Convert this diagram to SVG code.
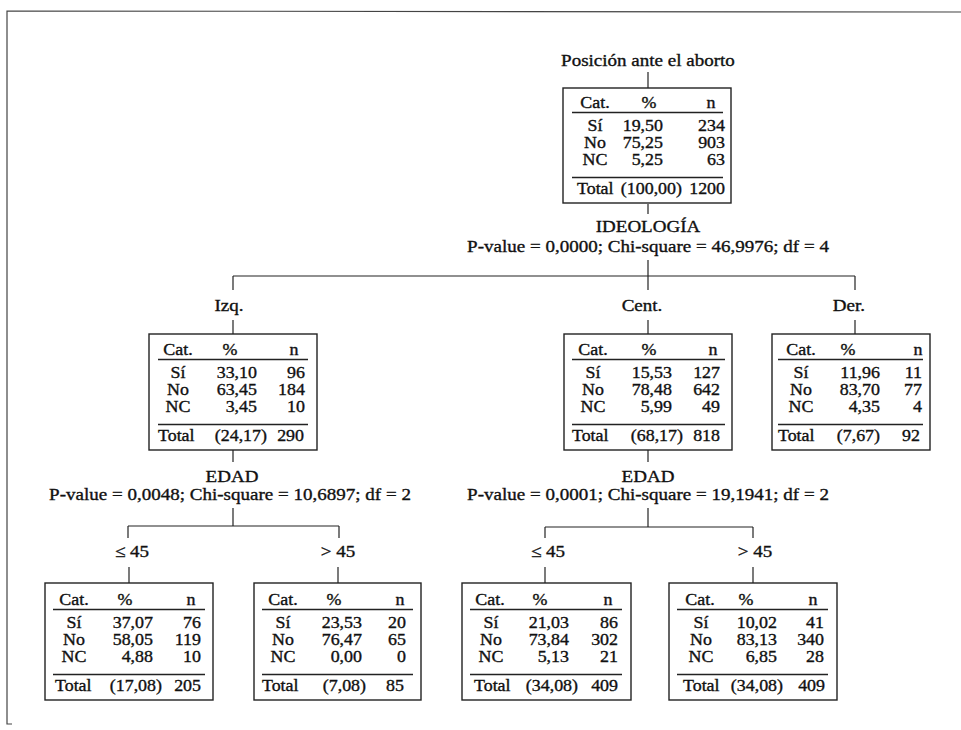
<svg xmlns="http://www.w3.org/2000/svg" width="961" height="730" viewBox="0 0 961 730">
<style>
text { font-family: "Liberation Serif", "Times New Roman", serif; fill: #111; stroke: #111; stroke-width: 0.35; transform-box: fill-box; transform: scaleX(1.12); }
.t { font-size: 16px; }
.l { font-size: 17px; }
.m { text-anchor: middle; transform-origin: center; }
.e { text-anchor: end; transform-origin: right center; }
.s { text-anchor: start; transform-origin: left center; }
.box { fill: #fff; stroke: #222; stroke-width: 1.4; }
.rule { stroke: #222; stroke-width: 1.3; }
.conn line { stroke: #222; stroke-width: 1.2; }
.frame { fill: none; stroke: #444; stroke-width: 1.2; }
</style>
<rect width="961" height="730" fill="#fff"/>
<g id="frame">
<polyline class="frame" points="961,12 7,11 7,724 12,724"/>
</g>
<g id="connectors" class="conn">
<line x1="648" y1="72" x2="648" y2="88"/>
<line x1="648" y1="204" x2="648" y2="214"/>
<line x1="648" y1="260" x2="648" y2="290"/>
<line x1="233" y1="276" x2="855" y2="276"/>
<line x1="233" y1="276" x2="233" y2="290"/>
<line x1="855" y1="276" x2="855" y2="290"/>
<line x1="233" y1="320" x2="233" y2="334"/>
<line x1="648" y1="320" x2="648" y2="334"/>
<line x1="855" y1="320" x2="855" y2="334"/>
<line x1="233" y1="450" x2="233" y2="462"/>
<line x1="233" y1="508" x2="233" y2="526"/>
<line x1="128" y1="526" x2="339" y2="526"/>
<line x1="128" y1="526" x2="128" y2="538"/>
<line x1="339" y1="526" x2="339" y2="538"/>
<line x1="129" y1="567" x2="129" y2="583"/>
<line x1="338" y1="567" x2="338" y2="583"/>
<line x1="648" y1="450" x2="648" y2="462"/>
<line x1="648" y1="508" x2="648" y2="527"/>
<line x1="545" y1="527" x2="753" y2="527"/>
<line x1="545" y1="527" x2="545" y2="538"/>
<line x1="753" y1="527" x2="753" y2="538"/>
<line x1="545" y1="567" x2="545" y2="583"/>
<line x1="753" y1="567" x2="753" y2="583"/>
</g>
<g id="labels">
<text class="l m" x="648" y="66">Posición ante el aborto</text>
<text class="l m" x="648" y="232">IDEOLOGÍA</text>
<text class="l m" x="648" y="252">P-value = 0,0000; Chi-square = 46,9976; df = 4</text>
<text class="l m" x="229" y="311">Izq.</text>
<text class="l m" x="642" y="311">Cent.</text>
<text class="l m" x="849" y="311">Der.</text>
<text class="l m" x="232" y="482">EDAD</text>
<text class="l m" x="230" y="500">P-value = 0,0048; Chi-square = 10,6897; df = 2</text>
<text class="l m" x="648" y="482">EDAD</text>
<text class="l m" x="648" y="500">P-value = 0,0001; Chi-square = 19,1941; df = 2</text>
<text class="l m" x="132" y="557">≤ 45</text>
<text class="l m" x="338" y="557">&gt; 45</text>
<text class="l m" x="548" y="557">≤ 45</text>
<text class="l m" x="755" y="557">&gt; 45</text>
</g>
<g id="node-root" transform="translate(563,88)">
<rect class="box" x="0" y="0" width="168" height="115"/>
<text class="t m" x="32" y="20">Cat.</text><text class="t m" x="86" y="20">%</text><text class="t m" x="148" y="20">n</text>
<line class="rule" x1="9" y1="24.5" x2="160" y2="24.5"/>
<text class="t m" x="32" y="43">Sí</text><text class="t e" x="100" y="43">19,50</text><text class="t e" x="162" y="43">234</text>
<text class="t m" x="32" y="60.5">No</text><text class="t e" x="100" y="60.5">75,25</text><text class="t e" x="162" y="60.5">903</text>
<text class="t m" x="32" y="77.5">NC</text><text class="t e" x="100" y="77.5">5,25</text><text class="t e" x="162" y="77.5">63</text>
<line class="rule" x1="9" y1="89.5" x2="160" y2="89.5"/>
<text class="t s" x="14" y="106">Total</text><text class="t e" x="119" y="106">(100,00)</text><text class="t e" x="162" y="106">1200</text>
</g>
<g id="node-izq" transform="translate(149,334)">
<rect class="box" x="0" y="0" width="168" height="116"/>
<text class="t m" x="29" y="21">Cat.</text><text class="t m" x="81" y="21">%</text><text class="t m" x="145" y="21">n</text>
<line class="rule" x1="9" y1="25.5" x2="159" y2="25.5"/>
<text class="t m" x="29" y="44">Sí</text><text class="t e" x="108" y="44">33,10</text><text class="t e" x="156" y="44">96</text>
<text class="t m" x="29" y="61.5">No</text><text class="t e" x="108" y="61.5">63,45</text><text class="t e" x="156" y="61.5">184</text>
<text class="t m" x="29" y="78.5">NC</text><text class="t e" x="108" y="78.5">3,45</text><text class="t e" x="156" y="78.5">10</text>
<line class="rule" x1="9" y1="90.5" x2="159" y2="90.5"/>
<text class="t s" x="9" y="107">Total</text><text class="t e" x="118" y="107">(24,17)</text><text class="t e" x="155" y="107">290</text>
</g>
<g id="node-cent" transform="translate(564,334)">
<rect class="box" x="0" y="0" width="168" height="116"/>
<text class="t m" x="29" y="21">Cat.</text><text class="t m" x="85" y="21">%</text><text class="t m" x="149" y="21">n</text>
<line class="rule" x1="8" y1="25.5" x2="161" y2="25.5"/>
<text class="t m" x="29" y="44">Sí</text><text class="t e" x="108" y="44">15,53</text><text class="t e" x="156" y="44">127</text>
<text class="t m" x="29" y="61.5">No</text><text class="t e" x="108" y="61.5">78,48</text><text class="t e" x="156" y="61.5">642</text>
<text class="t m" x="29" y="78.5">NC</text><text class="t e" x="108" y="78.5">5,99</text><text class="t e" x="156" y="78.5">49</text>
<line class="rule" x1="8" y1="90.5" x2="161" y2="90.5"/>
<text class="t s" x="8" y="107">Total</text><text class="t e" x="119" y="107">(68,17)</text><text class="t e" x="156" y="107">818</text>
</g>
<g id="node-der" transform="translate(772,334)">
<rect class="box" x="0" y="0" width="158" height="116"/>
<text class="t m" x="29" y="21">Cat.</text><text class="t m" x="76" y="21">%</text><text class="t m" x="146" y="21">n</text>
<line class="rule" x1="6" y1="25.5" x2="151" y2="25.5"/>
<text class="t m" x="29" y="44">Sí</text><text class="t e" x="108" y="44">11,96</text><text class="t e" x="150" y="44">11</text>
<text class="t m" x="29" y="61.5">No</text><text class="t e" x="108" y="61.5">83,70</text><text class="t e" x="150" y="61.5">77</text>
<text class="t m" x="29" y="78.5">NC</text><text class="t e" x="108" y="78.5">4,35</text><text class="t e" x="150" y="78.5">4</text>
<line class="rule" x1="6" y1="90.5" x2="151" y2="90.5"/>
<text class="t s" x="6" y="107">Total</text><text class="t e" x="108" y="107">(7,67)</text><text class="t e" x="148" y="107">92</text>
</g>
<g id="node-izq-le45" transform="translate(45,583)">
<rect class="box" x="0" y="0" width="168" height="117"/>
<text class="t m" x="29" y="22">Cat.</text><text class="t m" x="80" y="22">%</text><text class="t m" x="146" y="22">n</text>
<line class="rule" x1="8" y1="26.5" x2="160" y2="26.5"/>
<text class="t m" x="29" y="45">Sí</text><text class="t e" x="108" y="45">37,07</text><text class="t e" x="156" y="45">76</text>
<text class="t m" x="29" y="62.5">No</text><text class="t e" x="108" y="62.5">58,05</text><text class="t e" x="156" y="62.5">119</text>
<text class="t m" x="29" y="79.5">NC</text><text class="t e" x="108" y="79.5">4,88</text><text class="t e" x="156" y="79.5">10</text>
<line class="rule" x1="8" y1="91.5" x2="160" y2="91.5"/>
<text class="t s" x="10" y="108.5">Total</text><text class="t e" x="117" y="108.5">(17,08)</text><text class="t e" x="156" y="108.5">205</text>
</g>
<g id="node-izq-gt45" transform="translate(254,583)">
<rect class="box" x="0" y="0" width="167" height="117"/>
<text class="t m" x="29" y="22">Cat.</text><text class="t m" x="80" y="22">%</text><text class="t m" x="146" y="22">n</text>
<line class="rule" x1="8" y1="26.5" x2="159" y2="26.5"/>
<text class="t m" x="29" y="45">Sí</text><text class="t e" x="108" y="45">23,53</text><text class="t e" x="152" y="45">20</text>
<text class="t m" x="29" y="62.5">No</text><text class="t e" x="108" y="62.5">76,47</text><text class="t e" x="152" y="62.5">65</text>
<text class="t m" x="29" y="79.5">NC</text><text class="t e" x="108" y="79.5">0,00</text><text class="t e" x="152" y="79.5">0</text>
<line class="rule" x1="8" y1="91.5" x2="159" y2="91.5"/>
<text class="t s" x="8" y="108.5">Total</text><text class="t e" x="112" y="108.5">(7,08)</text><text class="t e" x="150" y="108.5">85</text>
</g>
<g id="node-cent-le45" transform="translate(462,583)">
<rect class="box" x="0" y="0" width="169" height="117"/>
<text class="t m" x="28" y="22">Cat.</text><text class="t m" x="78" y="22">%</text><text class="t m" x="146" y="22">n</text>
<line class="rule" x1="8" y1="26.5" x2="160" y2="26.5"/>
<text class="t m" x="29" y="45">Sí</text><text class="t e" x="107" y="45">21,03</text><text class="t e" x="156" y="45">86</text>
<text class="t m" x="29" y="62.5">No</text><text class="t e" x="107" y="62.5">73,84</text><text class="t e" x="156" y="62.5">302</text>
<text class="t m" x="29" y="79.5">NC</text><text class="t e" x="107" y="79.5">5,13</text><text class="t e" x="156" y="79.5">21</text>
<line class="rule" x1="8" y1="91.5" x2="160" y2="91.5"/>
<text class="t s" x="12" y="108.5">Total</text><text class="t e" x="116" y="108.5">(34,08)</text><text class="t e" x="156" y="108.5">409</text>
</g>
<g id="node-cent-gt45" transform="translate(669,583)">
<rect class="box" x="0" y="0" width="168" height="117"/>
<text class="t m" x="31" y="22">Cat.</text><text class="t m" x="77" y="22">%</text><text class="t m" x="144" y="22">n</text>
<line class="rule" x1="8" y1="26.5" x2="159" y2="26.5"/>
<text class="t m" x="32" y="45">Sí</text><text class="t e" x="108" y="45">10,02</text><text class="t e" x="155" y="45">41</text>
<text class="t m" x="32" y="62.5">No</text><text class="t e" x="108" y="62.5">83,13</text><text class="t e" x="155" y="62.5">340</text>
<text class="t m" x="32" y="79.5">NC</text><text class="t e" x="108" y="79.5">6,85</text><text class="t e" x="155" y="79.5">28</text>
<line class="rule" x1="8" y1="91.5" x2="159" y2="91.5"/>
<text class="t s" x="14" y="108.5">Total</text><text class="t e" x="114" y="108.5">(34,08)</text><text class="t e" x="156" y="108.5">409</text>
</g>
</svg>
